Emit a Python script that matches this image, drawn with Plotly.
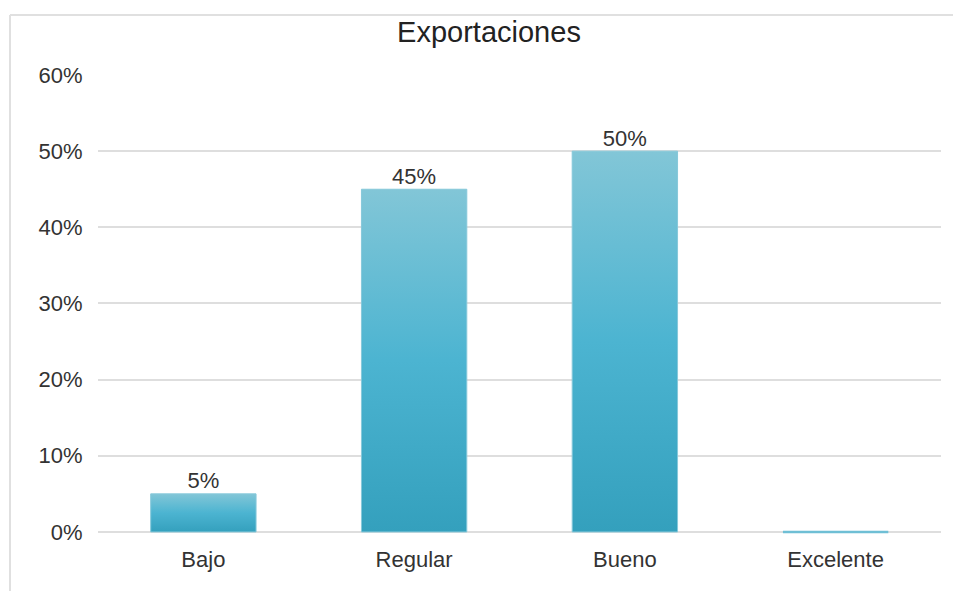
import plotly.graph_objects as go

categories = ["Bajo", "Regular", "Bueno", "Excelente"]
values = [5, 45, 50, 0]
labels = ["5%", "45%", "50%", ""]
y_ticks = [0, 10, 20, 30, 40, 50, 60]
y_ticktext = ["0%", "10%", "20%", "30%", "40%", "50%", "60%"]

FONT = "Liberation Sans, Arial, sans-serif"
half = 0.25

W, H = 953, 591
ML, MR, MT, MB = 98, 12, 75, 56
PW, PH = W - ML - MR, H - MT - MB

fig = go.Figure()
for i, v in enumerate(values):
    xs = [i - half, i + half, i + half, i - half, i - half]
    ys = [0, 0, v, v, 0]
    tr = dict(x=xs, y=ys, mode="lines", fill="toself",
              line=dict(color="#86c8da" if v > 0 else "#6fbfd5", width=1 if v > 0 else 2.5),
              showlegend=False, hoverinfo="skip")
    if v > 0:
        tr["fillgradient"] = dict(type="vertical", start=0, stop=v,
                                  colorscale=[[0, "#34a0bd"], [0.5, "#4cb4d1"], [1, "#82c6d7"]])
    else:
        tr["fillcolor"] = "rgba(0,0,0,0)"
    fig.add_trace(go.Scatter(**tr))

fig.add_trace(go.Scatter(x=list(range(len(categories))), y=values, mode="text",
                         text=labels, textposition="top center",
                         textfont=dict(family=FONT, size=22, color="#333333"),
                         showlegend=False, hoverinfo="skip"))

fx0 = (10 - ML) / PW
fy1 = (H - MB - 15) / PH
frame = dict(color="#e0e0e0", width=2)
fig.update_layout(
    width=W, height=H,
    margin=dict(l=ML, r=MR, t=MT, b=MB),
    paper_bgcolor="white", plot_bgcolor="white",
    font=dict(family=FONT, size=22, color="#404040"),
    title=dict(text="Exportaciones", x=489 / W, xanchor="center",
               y=(H - 32) / H, yanchor="middle", yref="container",
               font=dict(family=FONT, size=29, color="#222222")),
    xaxis=dict(range=[-0.5, 3.5], tickvals=list(range(len(categories))), ticktext=categories,
               showgrid=False, zeroline=False, showline=False,
               ticks="outside", ticklen=5, tickcolor="rgba(0,0,0,0)",
               tickfont=dict(family=FONT, size=22, color="#333333")),
    yaxis=dict(range=[-0.4, 60], tickvals=y_ticks, ticktext=y_ticktext,
               showgrid=True, gridcolor="#dedede", gridwidth=2, zeroline=False, showline=False,
               ticks="outside", ticklen=10, tickcolor="rgba(0,0,0,0)",
               tickfont=dict(family=FONT, size=22, color="#333333")),
    shapes=[
        dict(type="line", xref="paper", yref="paper", x0=fx0, x1=1.1, y0=fy1, y1=fy1,
             line=frame, layer="below"),
        dict(type="line", xref="paper", yref="paper", x0=fx0, x1=fx0, y0=-0.3, y1=fy1,
             line=frame, layer="below"),
    ],
)

fig.write_html("out.html", config={"displayModeBar": False},
               post_script="document.body.style.margin='0';document.body.style.overflow='hidden';")
